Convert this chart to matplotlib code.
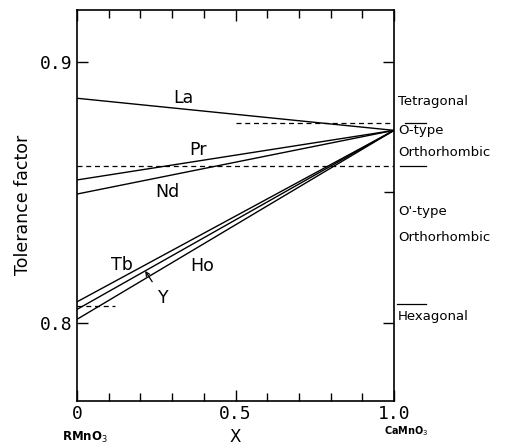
import numpy as np
import matplotlib
matplotlib.use("Agg")
import matplotlib.pyplot as plt
from matplotlib.ticker import MultipleLocator, FixedLocator

# tolerance factor of R(1-x)Ca(x)MnO3 end members
compounds = ['La', 'Pr', 'Nd', 'Tb', 'Y', 'Ho']
t_rmno3 = [0.8860, 0.8547, 0.8493, 0.8080, 0.8051, 0.8013]
t_camno3 = 0.8737
x_ends = [0.0, 1.0]

# phase boundaries (tolerance factor)
t_tetragonal = 0.8764
t_orthorhombic = 0.8602
t_hexagonal = 0.8070

phase_names = ['Tetragonal', 'O-type', 'Orthorhombic', "O'-type", 'Orthorhombic', 'Hexagonal']
phase_y = [0.8849, 0.8735, 0.8654, 0.8428, 0.8328, 0.8022]

label_pos = {'La': (0.334, 0.8862), 'Pr': (0.382, 0.8662), 'Nd': (0.284, 0.8501),
             'Tb': (0.142, 0.8221), 'Ho': (0.394, 0.8217), 'Y': (0.271, 0.8094)}

fig = plt.figure(figsize=(5.08, 4.47), dpi=100)
ax = fig.add_axes([0.1516, 0.1029, 0.6240, 0.8758])

for name, t0 in zip(compounds, t_rmno3):
    ax.plot(x_ends, [t0, t_camno3], color='black', lw=1.0, solid_capstyle='butt')
    lx, ly = label_pos[name]
    if name == 'Y':
        tip_x = 0.215
        tip_y = t0 + tip_x * (t_camno3 - t0)
        ax.annotate('Y', xy=(tip_x, tip_y), xytext=(lx, ly), fontsize=12.5,
                    ha='center', va='center',
                    arrowprops=dict(arrowstyle='->', lw=0.9, color='black',
                                    shrinkA=4, shrinkB=0, mutation_scale=7))
    else:
        ax.text(lx, ly, name, fontsize=12.5, ha='center', va='center')

# boundaries: dashed inside the plot, short solid marks outside the right edge
dash = dict(color='black', lw=0.9, ls=(0, (4, 3)))
ax.plot([0.5, 1.0], [t_tetragonal] * 2, **dash)
ax.plot([0.0, 1.0], [t_orthorhombic] * 2, **dash)
ax.plot([0.0, 0.12], [t_hexagonal - 0.0006] * 2, **dash)
ax.plot([1.035, 1.10], [t_tetragonal] * 2, color='black', lw=0.9, clip_on=False)
ax.plot([1.02, 1.10], [t_orthorhombic] * 2, color='black', lw=0.9, clip_on=False)
ax.plot([1.01, 1.10], [t_hexagonal] * 2, color='black', lw=0.9, clip_on=False)

for name, y in zip(phase_names, phase_y):
    ax.text(1.013, y, name, fontsize=9.5, ha='left', va='center', clip_on=False)

ax.set_xlim(0, 1.0)
ax.set_ylim(0.770, 0.920)

mono = 'DejaVu Sans Mono'
ax.xaxis.set_major_locator(FixedLocator([0, 0.5, 1.0]))
ax.xaxis.set_minor_locator(MultipleLocator(0.1))
ax.set_xticklabels(['0', '0.5', '1.0'], fontfamily=mono, fontsize=13)
ax.yaxis.set_major_locator(FixedLocator([0.8, 0.9]))
ax.yaxis.set_minor_locator(FixedLocator([0.85]))
ax.set_yticklabels(['0.8', '0.9'], fontfamily=mono, fontsize=13)

ax.tick_params(axis='x', which='both', direction='in', top=True, bottom=True, pad=3)
ax.tick_params(axis='x', which='major', length=8, width=1.0)
ax.tick_params(axis='x', which='minor', length=6, width=1.0)
ax.tick_params(axis='y', which='major', direction='in', left=True, right=True,
               length=8, width=1.0, pad=3)
ax.tick_params(axis='y', which='minor', direction='in', left=False, right=True,
               length=7, width=1.0)

for sp in ax.spines.values():
    sp.set_linewidth(1.2)

ax.set_ylabel('Tolerance factor', fontsize=12.5, labelpad=6)
ax.text(0.5, -0.093, 'X', transform=ax.transAxes, ha='center', va='center', fontsize=12)
ax.text(0.025, -0.092, r'RMnO$_3$', transform=ax.transAxes, ha='center', va='center',
        fontsize=8.5, fontweight='bold')
ax.text(1.04, -0.078, r'CaMnO$_3$', transform=ax.transAxes, ha='center', va='center',
        fontsize=7, fontweight='bold')

fig.savefig('out.png', dpi=100)
